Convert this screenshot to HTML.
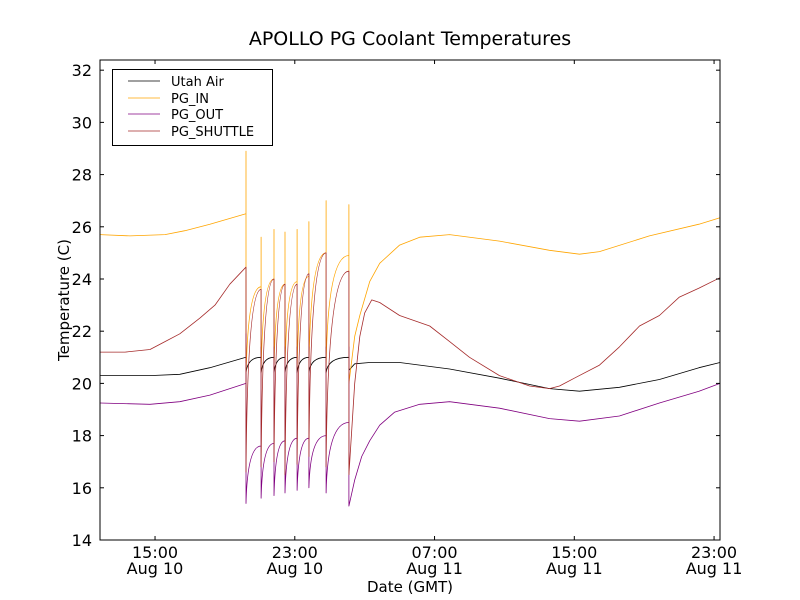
<!DOCTYPE html>
<html><head><meta charset="utf-8"><style>
body{margin:0;background:#fff;}
svg{display:block;font-family:"DejaVu Sans","Liberation Sans",sans-serif;}
</style></head><body>
<svg id="chart" width="800" height="600" viewBox="0 0 800 600">
<rect width="800" height="600" fill="#fff"/>
<text x="410" y="45" font-size="19" text-anchor="middle">APOLLO PG Coolant Temperatures</text>
<g id="plot"></g>
<g id="axes"></g>
<text x="410" y="592" font-size="15" text-anchor="middle">Date (GMT)</text>
<text transform="translate(69,300) rotate(-90)" font-size="15" text-anchor="middle">Temperature (C)</text>
<g>
<rect x="112.5" y="69.5" width="160" height="76" fill="#fff" stroke="#000" stroke-width="1"/>
<line x1="128" y1="81" x2="160" y2="81" stroke="#000" stroke-width="0.8"/>
<text x="171" y="86" font-size="13">Utah Air</text>
<line x1="128" y1="98" x2="160" y2="98" stroke="#ffa500" stroke-width="0.8"/>
<text x="171" y="103" font-size="13">PG_IN</text>
<line x1="128" y1="114" x2="160" y2="114" stroke="#800080" stroke-width="0.8"/>
<text x="171" y="119" font-size="13">PG_OUT</text>
<line x1="128" y1="131" x2="160" y2="131" stroke="#a52a2a" stroke-width="0.8"/>
<text x="171" y="136" font-size="13">PG_SHUTTLE</text>
</g>
</svg>
<script>
// hours since Aug 10 00:00 GMT
const spikeHours=[20.21,21.07,21.81,22.44,23.13,23.81,24.79,26.10];
const airPre=[[11.85,20.3],[14.71,20.3],[16.42,20.35],[18.14,20.6],[20.2,21.0]];
const airCyclePre=[21.0,21.0,21.0,21.0,21.0,21.0,21.0,21.0];
const airCyclePeak=[21.0,21.0,21.0,21.0,21.0,21.0,21.0,21.0];
const airCycleLow=[20.4,20.4,20.4,20.4,20.4,20.4,20.4,20.5];
const airPost=[[26.43,20.75],[27.29,20.8],[29.0,20.8],[31.86,20.55],[34.72,20.2],[37.58,19.8],[39.3,19.7],[41.58,19.85],[43.87,20.15],[46.14,20.6],[47.34,20.8]];
const inPre=[[11.85,25.7],[13.57,25.65],[15.57,25.7],[16.71,25.85],[18.14,26.1],[20.2,26.5]];
const inCyclePre=[26.5,23.7,24.0,23.8,23.9,24.1,25.0,24.9];
const inCyclePeak=[28.9,25.6,25.9,25.8,25.9,26.2,27.0,26.85];
const inCycleLow=[20.1,20.4,20.5,20.5,20.5,20.5,20.6,20.0];
const inPost=[[26.43,21.8],[26.72,22.6],[27.29,23.9],[27.86,24.6],[29.0,25.3],[30.15,25.6],[31.86,25.7],[34.72,25.45],[37.58,25.1],[39.3,24.95],[40.44,25.05],[43.3,25.65],[46.14,26.1],[47.34,26.35]];
const outPre=[[11.85,19.25],[14.71,19.2],[16.42,19.3],[18.14,19.55],[20.2,20.0]];
const outCyclePre=[20.0,17.6,17.7,17.8,17.9,17.9,18.0,18.5];
const outCyclePeak=[21.9,21.4,21.4,21.4,21.4,21.4,21.4,21.4];
const outCycleLow=[15.4,15.6,15.7,15.8,15.9,16.0,15.8,15.3];
const outPost=[[26.43,16.3],[26.83,17.2],[27.29,17.8],[27.86,18.4],[28.72,18.9],[30.15,19.2],[31.86,19.3],[34.72,19.05],[37.58,18.65],[39.3,18.55],[41.58,18.75],[43.87,19.25],[46.14,19.7],[47.34,20.0]];
const shPre=[[11.85,21.2],[13.28,21.2],[14.71,21.3],[15.57,21.6],[16.42,21.9],[17.57,22.5],[18.43,23.0],[19.28,23.8],[20.2,24.45]];
const shCyclePre=[24.45,23.6,24.0,23.8,23.8,24.2,25.0,24.3];
const shCyclePeak=[24.45,23.6,24.0,23.8,23.8,24.2,25.0,24.3];
const shCycleLow=[16.6,16.8,17.0,16.5,16.9,17.2,16.8,16.5];
const shPost=[[26.43,20.0],[26.72,21.8],[27.0,22.7],[27.4,23.2],[27.86,23.1],[29.0,22.6],[30.72,22.2],[31.86,21.6],[33.0,21.0],[34.72,20.3],[36.44,19.9],[37.58,19.8],[38.15,19.9],[39.0,20.2],[40.44,20.7],[41.58,21.4],[42.73,22.2],[43.87,22.6],[45.0,23.3],[46.14,23.65],[47.34,24.05]];
const yTicks=[14,16,18,20,22,24,26,28,30,32];
const xTickHours=[15,23,31,39,47];
const xTickTime=["15:00","23:00","07:00","15:00","23:00"];
const xTickDate=["Aug 10","Aug 10","Aug 11","Aug 11","Aug 11"];

const L=100,R=720,T=60,B=540,X0=11.85,X1=47.34,Y0=14,Y1=32.39;
const sx=h=>L+(h-X0)/(X1-X0)*(R-L);
const sy=v=>B-(v-Y0)/(Y1-Y0)*(B-T);
const NS="http://www.w3.org/2000/svg";
const plot=document.getElementById('plot'),axes=document.getElementById('axes');

function buildPath(pre,cp,ck,cl,post){
  let d="";
  pre.forEach((p,i)=>{d+=(i?"L":"M")+sx(p[0]).toFixed(1)+","+sy(p[1]).toFixed(1);});
  spikeHours.forEach((t,i)=>{
    const x=sx(t);
    d+="L"+x.toFixed(1)+","+sy(cp[i]).toFixed(1)+"L"+x.toFixed(1)+","+sy(ck[i]).toFixed(1)+"L"+x.toFixed(1)+","+sy(cl[i]).toFixed(1);
    if(i<spikeHours.length-1){
      const xn=sx(spikeHours[i+1]);
      d+="Q"+(x+1.5).toFixed(1)+","+sy(cp[i+1]).toFixed(1)+" "+xn.toFixed(1)+","+sy(cp[i+1]).toFixed(1);
    }
  });
  post.forEach(p=>{d+="L"+sx(p[0]).toFixed(1)+","+sy(p[1]).toFixed(1);});
  return d;
}
const seriesDefs=[
 ['line-utah-air','#000',airPre,airCyclePre,airCyclePeak,airCycleLow,airPost],
 ['line-pg-in','#ffa500',inPre,inCyclePre,inCyclePeak,inCycleLow,inPost],
 ['line-pg-out','#800080',outPre,outCyclePre,outCyclePeak,outCycleLow,outPost],
 ['line-pg-shuttle','#a52a2a',shPre,shCyclePre,shCyclePeak,shCycleLow,shPost]
];
seriesDefs.forEach(s=>{
  const p=document.createElementNS(NS,'path');
  p.setAttribute('d',buildPath(s[2],s[3],s[4],s[5],s[6]));
  p.setAttribute('fill','none');p.setAttribute('stroke',s[1]);p.setAttribute('stroke-width','0.8');
  p.setAttribute('stroke-linejoin','round');
  
  
  plot.appendChild(p);
});
const frame=document.createElementNS(NS,'rect');
frame.setAttribute('x',L);frame.setAttribute('y',T);frame.setAttribute('width',R-L);frame.setAttribute('height',B-T);
frame.setAttribute('fill','none');frame.setAttribute('stroke','#000');frame.setAttribute('stroke-width','1');


axes.appendChild(frame);
yTicks.forEach(v=>{
  const y=sy(v);
  [[L,L+4],[R,R-4]].forEach(a=>{
    const ln=document.createElementNS(NS,'line');
    ln.setAttribute('x1',a[0]);ln.setAttribute('x2',a[1]);ln.setAttribute('y1',y);ln.setAttribute('y2',y);ln.setAttribute('stroke','#000');
    
    
    axes.appendChild(ln);
  });
  const t=document.createElementNS(NS,'text');
  t.setAttribute('x',L-8);t.setAttribute('y',y+6);t.setAttribute('font-size','16');t.setAttribute('text-anchor','end');
  t.textContent=v;
  
  
  axes.appendChild(t);
});
xTickHours.forEach((h,i)=>{
  const x=sx(h);
  [[B,B-4],[T,T+4]].forEach(a=>{
    const ln=document.createElementNS(NS,'line');
    ln.setAttribute('x1',x);ln.setAttribute('x2',x);ln.setAttribute('y1',a[0]);ln.setAttribute('y2',a[1]);ln.setAttribute('stroke','#000');
    
    
    axes.appendChild(ln);
  });
  [[xTickTime[i],558],[xTickDate[i],574]].forEach(a=>{
    const t=document.createElementNS(NS,'text');
    t.setAttribute('x',x);t.setAttribute('y',a[1]);t.setAttribute('font-size','16');t.setAttribute('text-anchor','middle');
    t.textContent=a[0];
    
    
    axes.appendChild(t);
  });
});
</script>
</body></html>
